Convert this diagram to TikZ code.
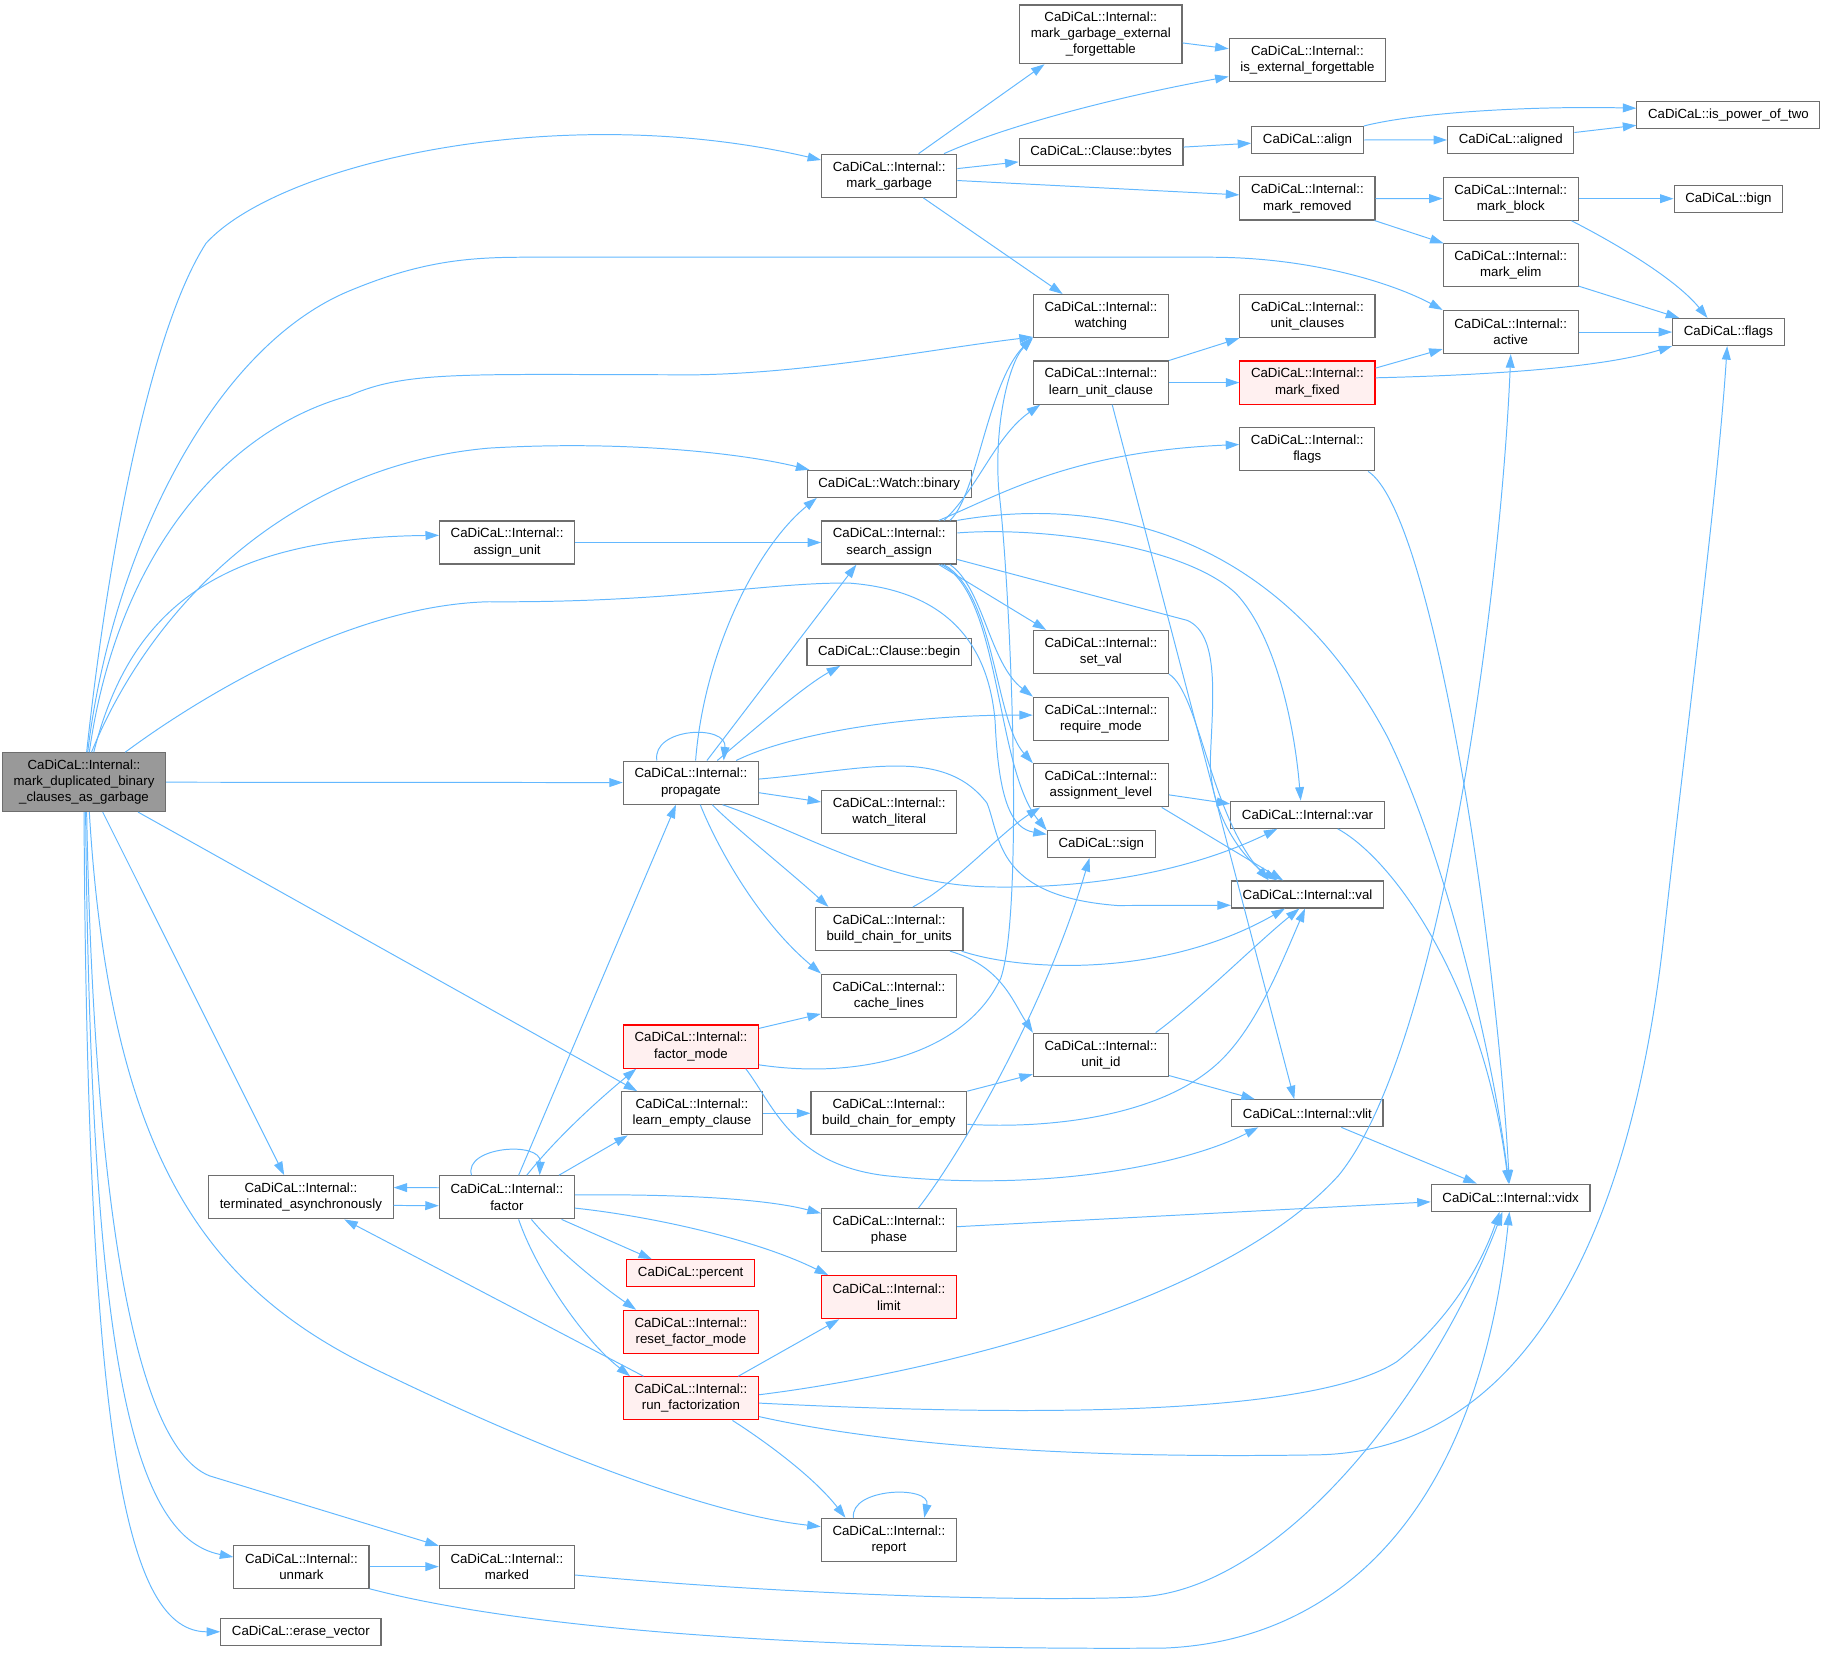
\documentclass[tikz,border=0pt]{standalone}
\usepackage{fontspec}
\setmainfont{Liberation Sans}
\usepackage{tikz}
\usetikzlibrary{arrows.meta}
\definecolor{callblue}{RGB}{99,184,255}
\definecolor{boxgray}{RGB}{110,110,110}
\definecolor{rootgray}{RGB}{153,153,153}
\definecolor{warnred}{RGB}{255,0,0}
\definecolor{warnpink}{RGB}{255,240,240}

\begin{document}
\begin{tikzpicture}[x=0.025cm,y=0.025cm,
    fn/.style={draw=boxgray,line width=0.7pt,fill=white,align=center,
      inner xsep=0.24cm,inner ysep=0pt,font=\fontsize{8.1}{9.9}\selectfont},
    l1/.style={minimum height=0.58cm},
    l2/.style={minimum height=0.925cm},
    l3/.style={minimum height=1.26cm},
    rootfn/.style={fn,fill=rootgray},
    redfn/.style={fn,draw=warnred,fill=warnpink},
    call/.style={draw=callblue,line width=0.6pt,-{Triangle[length=0.29cm,width=0.19cm]}}]
    \useasboundingbox (0,0) rectangle (1568,-1422);

    \node[rootfn,l3] (root) at (72.2,-672) {CaDiCaL::Internal::\\mark\_duplicated\_binary\\\_clauses\_as\_garbage};
    \node[fn,l3] (mge) at (945.8,-29.5) {CaDiCaL::Internal::\\mark\_garbage\_external\\\_forgettable};
    \node[fn,l2] (ief) at (1123.3,-51.4) {CaDiCaL::Internal::\\is\_external\_forgettable};
    \node[fn,l2] (mgarb) at (764,-151) {CaDiCaL::Internal::\\mark\_garbage};
    \node[fn,l1] (bytes) at (946,-130.4) {CaDiCaL::Clause::bytes};
    \node[fn,l1] (align) at (1123.4,-120.3) {CaDiCaL::align};
    \node[fn,l1] (aligned) at (1298,-120.2) {CaDiCaL::aligned};
    \node[fn,l1] (pow2) at (1485,-98.5) {CaDiCaL::is\_power\_of\_two};
    \node[fn,l2] (mrem) at (1123.3,-170.5) {CaDiCaL::Internal::\\mark\_removed};
    \node[fn,l2] (mblock) at (1298,-170.7) {CaDiCaL::Internal::\\mark\_block};
    \node[fn,l1] (bign) at (1485,-170.7) {CaDiCaL::bign};
    \node[fn,l2] (melim) at (1298,-228) {CaDiCaL::Internal::\\mark\_elim};
    \node[fn,l2] (watching) at (945.9,-271.6) {CaDiCaL::Internal::\\watching};
    \node[fn,l2] (unitcl) at (1123.3,-271.6) {CaDiCaL::Internal::\\unit\_clauses};
    \node[fn,l2] (active) at (1298,-285.3) {CaDiCaL::Internal::\\active};
    \node[fn,l1] (flags) at (1485,-285.3) {CaDiCaL::flags};
    \node[fn,l2] (lunit) at (945.9,-328.7) {CaDiCaL::Internal::\\learn\_unit\_clause};
    \node[redfn,l2] (mfixed) at (1123.3,-328.7) {CaDiCaL::Internal::\\mark\_fixed};
    \node[fn,l2] (iflags) at (1123.2,-386) {CaDiCaL::Internal::\\flags};
    \node[fn,l1] (binary) at (764,-415.7) {CaDiCaL::Watch::binary};
    \node[fn,l2] (aunit) at (435.7,-466.1) {CaDiCaL::Internal::\\assign\_unit};
    \node[fn,l2] (sassign) at (764,-466.1) {CaDiCaL::Internal::\\search\_assign};
    \node[fn,l2] (setval) at (945.9,-560.2) {CaDiCaL::Internal::\\set\_val};
    \node[fn,l1] (begin) at (764,-560) {CaDiCaL::Clause::begin};
    \node[fn,l2] (reqmode) at (945.9,-617.5) {CaDiCaL::Internal::\\require\_mode};
    \node[fn,l2] (prop) at (593.6,-672.4) {CaDiCaL::Internal::\\propagate};
    \node[fn,l2] (alevel) at (945.9,-674.7) {CaDiCaL::Internal::\\assignment\_level};
    \node[fn,l1] (var) at (1123.4,-700) {CaDiCaL::Internal::var};
    \node[fn,l2] (wlit) at (764,-697.7) {CaDiCaL::Internal::\\watch\_literal};
    \node[fn,l1] (sign) at (946.2,-725.1) {CaDiCaL::sign};
    \node[fn,l1] (val) at (1123.4,-768.5) {CaDiCaL::Internal::val};
    \node[fn,l2] (bunits) at (764,-798.2) {CaDiCaL::Internal::\\build\_chain\_for\_units};
    \node[fn,l2] (cache) at (763.8,-855.4) {CaDiCaL::Internal::\\cache\_lines};
    \node[redfn,l2] (fmode) at (593.7,-899.2) {CaDiCaL::Internal::\\factor\_mode};
    \node[fn,l2] (unitid) at (945.9,-906.2) {CaDiCaL::Internal::\\unit\_id};
    \node[fn,l2] (lempty) at (594.5,-956.5) {CaDiCaL::Internal::\\learn\_empty\_clause};
    \node[fn,l2] (bempty) at (763.7,-956.5) {CaDiCaL::Internal::\\build\_chain\_for\_empty};
    \node[fn,l1] (vlit) at (1123.3,-956.5) {CaDiCaL::Internal::vlit};
    \node[fn,l2] (term) at (258.5,-1028.7) {CaDiCaL::Internal::\\terminated\_asynchronously};
    \node[fn,l2] (factor) at (435.5,-1028.7) {CaDiCaL::Internal::\\factor};
    \node[fn,l1] (vidx) at (1297.9,-1029) {CaDiCaL::Internal::vidx};
    \node[fn,l2] (phase) at (763.8,-1057) {CaDiCaL::Internal::\\phase};
    \node[redfn,l1] (percent) at (593.4,-1094) {CaDiCaL::percent};
    \node[redfn,l2] (limit) at (763.7,-1114.5) {CaDiCaL::Internal::\\limit};
    \node[redfn,l2] (rfmode) at (593.6,-1144.3) {CaDiCaL::Internal::\\reset\_factor\_mode};
    \node[redfn,l2] (runf) at (593.6,-1201.4) {CaDiCaL::Internal::\\run\_factorization};
    \node[fn,l2] (report) at (763.7,-1323) {CaDiCaL::Internal::\\report};
    \node[fn,l2] (unmark) at (259,-1346) {CaDiCaL::Internal::\\unmark};
    \node[fn,l2] (marked) at (435.5,-1346) {CaDiCaL::Internal::\\marked};
    \node[fn,l1] (erase) at (258.5,-1402) {CaDiCaL::erase\_vector};

    \foreach \a/\b in {root/prop,bytes/align,align/aligned,aligned/pow2,mrem/mblock,mrem/melim,
        mblock/bign,active/flags,lunit/mfixed,aunit/sassign,prop/wlit,lempty/bempty,
        vlit/vidx,phase/vidx,unmark/marked}
        \draw[call] (\a) -- (\b);

    \draw[call] (root.85) .. controls (90,-500) and (125,-290) .. (177,-209) .. controls (240,-140) and (480,-85) .. (mgarb.167);
    \draw[call] (root.83) .. controls (95,-480) and (180,-300) .. (300,-250) .. controls (360,-225) and (400,-221) .. (450,-221) -- (1040,-221) .. controls (1130,-221) and (1200,-245) .. (active.north west);
    \draw[call] (root.80) .. controls (100,-480) and (190,-370) .. (300,-340) .. controls (350,-318) and (400,-322) .. (600,-322) .. controls (700,-320) and (800,-300) .. (watching.197);
    \draw[call] (root.76) .. controls (130,-520) and (250,-400) .. (420,-385) .. controls (540,-378) and (640,-390) .. (binary.170);
    \draw[call] (root.72) .. controls (110,-530) and (180,-462) .. (aunit.174);
    \draw[call] (root.36) .. controls (170,-600) and (300,-520) .. (420,-517) .. controls (580,-518) and (660,-500) .. (730,-501) .. controls (820,-508) and (850,-560) .. (855,-620) .. controls (858,-690) and (870,-712) .. (sign.170);
    \draw[call] (root.-29) -- (lempty.158);
    \draw[call] (root.-58) -- (term.127);
    \draw[call] (root.-80) .. controls (95,-1000) and (180,-1110) .. (330,-1180) .. controls (450,-1238) and (600,-1300) .. (report.169);
    \draw[call] (root.-85) .. controls (80,-1000) and (110,-1240) .. (180,-1268) -- (marked.163);
    \draw[call] (root.-87) .. controls (78,-1150) and (110,-1320) .. (unmark.172);
    \draw[call] (root.-90) .. controls (75,-1250) and (110,-1402) .. (erase.west);

    \draw[call] (mgarb.37) -- (mge.-152);
    \draw[call] (mgarb.22) .. controls (860,-110) and (950,-85) .. (ief.192);
    \draw[call] (mgarb.6) -- (bytes.187);
    \draw[call] (mgarb.-4) -- (mrem.177);
    \draw[call] (mgarb.-33) -- (watching.150);
    \draw[call] (mge.-6) -- (ief.172);
    \draw[call] (align.14) .. controls (1220,-96) and (1320,-91) .. (pow2.176);
    \draw[call] (mblock.-20) .. controls (1390,-210) and (1440,-240) .. (flags.146);
    \draw[call] (melim.-17) -- (flags.164);
    \draw[call] (mfixed.12) -- (active.194);
    \draw[call] (mfixed.4) .. controls (1290,-322) and (1380,-315) .. (flags.194);
    \draw[call] (lunit.north east) -- (unitcl.south west);
    \draw[call] (lunit.-63) -- (vlit.133);
    \draw[call] (iflags.-20) .. controls (1230,-440) and (1285,-800) .. (vidx.95);

    \draw[call] (sassign.20) .. controls (840,-425) and (848,-330) .. (watching.197);
    \draw[call] (sassign.22) .. controls (840,-420) and (855,-375) .. (lunit.200);
    \draw[call] (sassign.24) .. controls (860,-425) and (920,-388) .. (iflags.176);
    \draw[call] (sassign.-24) -- (setval.158);
    \draw[call] (sassign.-20) .. controls (845,-505) and (850,-570) .. (reqmode.162);
    \draw[call] (sassign.-22) .. controls (855,-510) and (855,-620) .. (alevel.162);
    \draw[call] (sassign.-23) .. controls (860,-510) and (855,-660) .. (sign.166);
    \draw[call] (sassign.8) .. controls (900,-452) and (1020,-470) .. (1062,-510) .. controls (1095,-545) and (1112,-620) .. (var.116);
    \draw[call] (sassign.north east) .. controls (950,-425) and (1100,-460) .. (1192,-633) .. controls (1240,-730) and (1282,-900) .. (vidx.97);
    \draw[call] (sassign.-14) -- (1020,-533) .. controls (1048,-545) and (1042,-600) .. (1040,-650) .. controls (1038,-700) and (1070,-740) .. (val.155);
    \draw[call] (setval.-18) .. controls (1030,-595) and (1040,-700) .. (val.160);

    \draw[call] (prop.147) .. controls (560,-625) and (625,-622) .. (prop.34);
    \draw[call] (prop.78) .. controls (605,-560) and (650,-470) .. (binary.191);
    \draw[call] (prop.54) -- (sassign.-146);
    \draw[call] (prop.40) .. controls (650,-625) and (690,-590) .. (begin.196);
    \draw[call] (prop.26) .. controls (680,-630) and (780,-614) .. (reqmode.177);
    \draw[call] (prop.-35) .. controls (690,-715) and (760,-760) .. (850,-762) .. controls (960,-764) and (1040,-740) .. (var.205);
    \draw[call] (prop.3) .. controls (740,-662) and (810,-640) .. (848,-690) .. controls (860,-720) and (855,-770) .. (960,-778) -- (val.188);
    \draw[call] (prop.-46) .. controls (630,-710) and (680,-750) .. (bunits.160);
    \draw[call] (prop.-67) .. controls (615,-725) and (650,-790) .. (cache.162);

    \draw[call] (alevel.-8) -- (var.172);
    \draw[call] (alevel.-20) -- (val.150);
    \draw[call] (var.-25) .. controls (1200,-740) and (1275,-850) .. (vidx.99);
    \draw[call] (bunits.43) .. controls (820,-760) and (860,-715) .. (alevel.200);
    \draw[call] (bunits.-17) .. controls (880,-835) and (1000,-840) .. (val.212);
    \draw[call] (bunits.-20) .. controls (860,-830) and (870,-860) .. (unitid.162);
    \draw[call] (unitid.22) .. controls (1030,-860) and (1080,-810) .. (val.240);
    \draw[call] (unitid.-17) -- (vlit.165);
    \draw[call] (bempty.north east) -- (unitid.196);
    \draw[call] (bempty.-8) .. controls (900,-970) and (1000,-960) .. (1050,-910) .. controls (1080,-880) and (1100,-830) .. (val.-100);

    \draw[call] (fmode.15) -- (cache.195);
    \draw[call] (fmode.-15) .. controls (740,-928) and (830,-905) .. (860,-840) .. controls (880,-780) and (868,-500) .. (858,-420) .. controls (854,-360) and (868,-310) .. (watching.198);
    \draw[call] (fmode.-22) .. controls (665,-950) and (680,-1000) .. (760,-1010) .. controls (900,-1025) and (1020,-1000) .. (vlit.196);

    \draw[call] (factor.148) .. controls (398,-985) and (465,-980) .. (factor.34);
    \draw[call] (factor.172) -- (term.6);
    \draw[call] (term.-5) -- (factor.187);
    \draw[call] (factor.62) -- (prop.-124);
    \draw[call] (factor.48) .. controls (480,-975) and (520,-940) .. (fmode.202);
    \draw[call] (factor.23) -- (lempty.199);
    \draw[call] (factor.2) .. controls (560,-1026) and (650,-1028) .. (phase.166);
    \draw[call] (factor.-9) .. controls (560,-1045) and (650,-1065) .. (limit.160);
    \draw[call] (factor.-22) -- (percent.160);
    \draw[call] (factor.-42) .. controls (475,-1070) and (510,-1100) .. (rfmode.158);
    \draw[call] (factor.-62) .. controls (460,-1090) and (500,-1150) .. (runf.160);
    \draw[call] (phase.37) .. controls (830,-985) and (900,-860) .. (sign.-130);

    \draw[call] (runf.155) -- (term.-27);
    \draw[call] (runf.25) -- (limit.204);
    \draw[call] (runf.3) .. controls (800,-1180) and (1050,-1120) .. (1150,-1010) .. controls (1240,-900) and (1290,-500) .. (active.-90);
    \draw[call] (runf.-4) .. controls (900,-1218) and (1130,-1215) .. (1200,-1170) .. controls (1250,-1130) and (1275,-1080) .. (vidx.-128);
    \draw[call] (runf.-15) .. controls (800,-1250) and (1000,-1252) .. (1130,-1250) .. controls (1300,-1248) and (1400,-1080) .. (1430,-800) .. controls (1450,-620) and (1476,-420) .. (flags.-95);
    \draw[call] (runf.-28) .. controls (660,-1240) and (700,-1270) .. (report.153);
    \draw[call] (report.148) .. controls (730,-1278) and (800,-1276) .. (report.32);
    \draw[call] (marked.-7) .. controls (700,-1372) and (900,-1376) .. (980,-1372) .. controls (1100,-1365) and (1230,-1200) .. (vidx.-120);
    \draw[call] (unmark.-18) .. controls (450,-1400) and (700,-1418) .. (1000,-1416) .. controls (1150,-1410) and (1270,-1300) .. (vidx.-95);
\end{tikzpicture}
\end{document}
